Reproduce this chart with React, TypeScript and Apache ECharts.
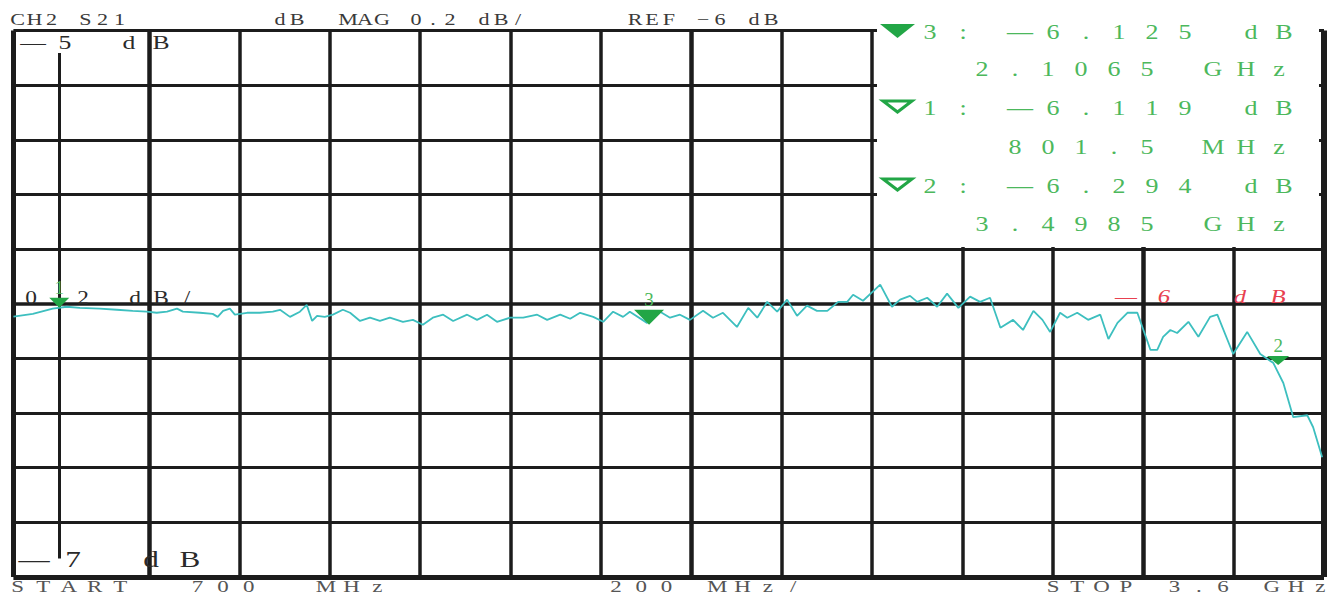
import React, { useEffect, useRef } from "react";
import * as echarts from "echarts";

// ---- data ----
const freqMHz = [
  700, 743, 787, 818, 847, 891, 929, 964, 995, 1017, 1040, 1062, 1075, 1113, 1141, 1152, 1164, 1179, 1190, 1217,
  1245, 1274, 1290, 1312, 1334, 1349, 1361, 1372, 1389, 1407, 1429, 1445, 1467, 1489, 1511, 1533, 1562, 1584, 1606, 1628,
  1651, 1673, 1704, 1726, 1748, 1770, 1799, 1828, 1859, 1881, 1910, 1932, 1954, 1983, 2005, 2027, 2049, 2064, 2102, 2131,
  2153, 2175, 2197, 2226, 2248, 2270, 2301, 2326, 2346, 2368, 2390, 2412, 2434, 2456, 2478, 2501, 2525, 2545, 2558, 2580,
  2618, 2644, 2662, 2684, 2700, 2722, 2744, 2766, 2791, 2817, 2839, 2861, 2884, 2912, 2934, 2957, 2977, 2994, 3016, 3032,
  3054, 3078, 3105, 3123, 3143, 3165, 3187, 3216, 3231, 3244, 3260, 3275, 3300, 3322, 3348, 3364, 3399, 3430, 3459, 3488,
  3510, 3532, 3563, 3576, 3596,
];
const s21dB = [
  -6.047, -6.037, -6.018, -6.011, -6.015, -6.018, -6.022, -6.026, -6.029, -6.033, -6.029, -6.018, -6.029, -6.033, -6.037, -6.048, -6.026, -6.018, -6.040, -6.033,
  -6.033, -6.029, -6.022, -6.048, -6.029, -6.004, -6.063, -6.044, -6.048, -6.040, -6.022, -6.033, -6.063, -6.051, -6.063, -6.051, -6.066, -6.059, -6.077, -6.051,
  -6.040, -6.063, -6.040, -6.059, -6.040, -6.066, -6.051, -6.051, -6.040, -6.059, -6.040, -6.055, -6.033, -6.048, -6.066, -6.029, -6.048, -6.029, -6.070, -6.029,
  -6.051, -6.040, -6.059, -6.026, -6.051, -6.033, -6.085, -6.015, -6.051, -5.993, -6.029, -5.985, -6.044, -6.007, -6.026, -6.026, -5.993, -5.993, -5.967, -5.989,
  -5.930, -6.011, -5.985, -5.971, -5.993, -5.978, -6.011, -5.963, -6.015, -5.974, -5.993, -5.978, -6.088, -6.059, -6.096, -6.026, -6.059, -6.103, -6.033, -6.051,
  -6.033, -6.059, -6.040, -6.129, -6.070, -6.033, -6.033, -6.169, -6.169, -6.121, -6.096, -6.107, -6.066, -6.121, -6.048, -6.040, -6.184, -6.103, -6.184, -6.217,
  -6.290, -6.415, -6.408, -6.452, -6.562,
];
const xStartMHz = 700;
const xStopMHz = 3600;
const xGridMHz = [1000, 1200, 1400, 1600, 1800, 2000, 2200, 2400, 2600, 2800, 3000, 3200, 3400];
const yTopDb = -5;
const yBottomDb = -7;
const yGridDb = [-5.2, -5.4, -5.6, -5.8, -6.0, -6.2, -6.4, -6.6, -6.8];
const markerNames = ["1", "3", "2"];
const markerFreqMHz = [801.5, 2106.5, 3498.5];
const markerDb = [-6.015, -6.077, -6.224];
const marker1LineDb = [-5.082, -6.932];

// ---- texts ----
const headerLeft = "CH2 S21";
const headerMid = "dB  MAG 0.2 dB/";
const headerRef = "REF −6 dB";
const topScale = "—5 dB";
const perDiv = "0.2 dB/";
const bottomScale = "—7 dB";
const startText = "START  700  MHz";
const spanText = "200 MHz/";
const stopText = "STOP 3.6 GHz";
const refText = "—6 dB";
const readoutIds = ["3", "1", "2"];
const readoutValues = ["—6.125 dB", "—6.119 dB", "—6.294 dB"];
const readoutFreqs = [" 2.1065 GHz", "  801.5 MHz", " 3.4985 GHz"];

const SERIF = '"Liberation Serif", "DejaVu Serif", serif';

function spaced(
  str: string,
  x0: number,
  pitch: number,
  y: number,
  font: string,
  fill: string,
  scaleX = 1,
  z = 11
) {
  const out: any[] = [];
  Array.from(str).forEach((ch, i) => {
    if (ch === " ") return;
    out.push({
      type: "text",
      x: x0 + i * pitch,
      y,
      z,
      scaleX,
      silent: true,
      style: {
        text: ch,
        font,
        fill,
        align: "center",
        verticalAlign: "middle",
        textAlign: "center",
        textVerticalAlign: "middle",
      },
    });
  });
  return out;
}

export default function App() {
  const ref = useRef<HTMLDivElement>(null);
  useEffect(() => {
    if (!ref.current) return;
    const chart = echarts.init(ref.current, undefined, { renderer: "svg" });
    const gridColor = "#1c1c1c";
    const green = "#4cb85c";
    const greenFill = "#22a646";
    const hdr = `17px ${SERIF}`;
    const bottomFont = `17px ${SERIF}`;
    const roFont = `20px ${SERIF}`;

    const gridLines: any[] = [
      ...xGridMHz.map((v) => ({
        xAxis: v,
        lineStyle: { color: gridColor, width: v === 1000 || v === 2200 || v === 3200 ? 4.5 : 3.5, type: "solid" },
      })),
      ...yGridDb.map((v) => ({ yAxis: v, lineStyle: { color: gridColor, width: v === -6 ? 3.5 : 3, type: "solid" } })),
      { xAxis: xStartMHz, lineStyle: { color: gridColor, width: 5, type: "solid" } },
      { xAxis: xStopMHz, lineStyle: { color: gridColor, width: 6, type: "solid" } },
      { yAxis: yTopDb, lineStyle: { color: gridColor, width: 3, type: "solid" } },
      { yAxis: yBottomDb, lineStyle: { color: gridColor, width: 5, type: "solid" } },
      [
        { coord: [markerFreqMHz[0], marker1LineDb[0]], lineStyle: { color: gridColor, width: 3, type: "solid" } },
        { coord: [markerFreqMHz[0], marker1LineDb[1]] },
      ],
    ];

    const markerSizes = [
      [20, 10],
      [30, 15],
      [22, 9],
    ];

    const graphics: any[] = [
      // readout box
      { type: "rect", z: 10, silent: true, shape: { x: 877, y: 26, width: 442, height: 221 }, style: { fill: "#ffffff" } },
      ...spaced(headerLeft, 17.5, 17, 19, hdr, "#3a3a3a", 1.3),
      ...spaced(headerMid, 280, 17, 19, hdr, "#3a3a3a", 1.3),
      ...spaced(headerRef, 635, 17, 19, hdr, "#3a3a3a", 1.3),
      ...spaced(topScale, 33, 32, 43, `19px ${SERIF}`, "#2a2a2a", 1.35),
      ...spaced(perDiv, 31, 26, 298, `18px ${SERIF}`, "#2a2a2a", 1.3),
      ...spaced(bottomScale, 34, 39, 559, `24px ${SERIF}`, "#2a2a2a", 1.3),
      ...spaced(startText, 17.5, 25.7, 586, bottomFont, "#555555", 1.35),
      ...spaced(spanText, 616, 25.3, 586, bottomFont, "#555555", 1.35),
      ...spaced(stopText, 1053, 24.3, 586, bottomFont, "#555555", 1.35),
      ...spaced(refText, 1126, 38, 297, `italic 19px ${SERIF}`, "#e8404f", 1.3),
      // readout triangles
      { type: "polygon", z: 11, silent: true, shape: { points: [[880, 24], [915, 24], [897.5, 38]] }, style: { fill: greenFill } },
      { type: "polygon", z: 11, silent: true, shape: { points: [[883, 101], [912, 101], [897.5, 112]] }, style: { fill: "none", stroke: greenFill, lineWidth: 3 } },
      { type: "polygon", z: 11, silent: true, shape: { points: [[883, 179], [912, 179], [897.5, 190]] }, style: { fill: "none", stroke: greenFill, lineWidth: 3 } },
    ];
    const rowY = [32, 69.5, 108, 147, 186, 224];
    readoutIds.forEach((id, i) => {
      graphics.push(...spaced(id, 930, 33, rowY[i * 2], roFont, green, 1.3));
      graphics.push(...spaced(":", 963, 33, rowY[i * 2], roFont, green, 1.3));
      graphics.push(...spaced(readoutValues[i], 1020, 33, rowY[i * 2], roFont, green, 1.3));
      graphics.push(...spaced(readoutFreqs[i], 949, 33, rowY[i * 2 + 1], roFont, green, 1.3));
    });

    chart.setOption({
      animation: false,
      backgroundColor: "#ffffff",
      grid: { left: 13.4, right: 3, top: 30.5, bottom: 19, containLabel: false },
      xAxis: { type: "value", min: xStartMHz, max: xStopMHz, show: false },
      yAxis: { type: "value", min: yBottomDb, max: yTopDb, show: false },
      series: [
        {
          type: "line",
          z: 3,
          silent: true,
          data: [[xStartMHz, -6]],
          showSymbol: false,
          lineStyle: { width: 0 },
          markLine: { silent: true, symbol: ["none", "none"], label: { show: false }, animation: false, data: gridLines },
        },
        {
          type: "line",
          z: 5,
          silent: true,
          data: freqMHz.map((f, i) => [f, s21dB[i]]),
          showSymbol: false,
          smooth: false,
          lineStyle: { color: "#3dbfbf", width: 1.8 },
        },
        {
          type: "scatter",
          z: 20,
          silent: true,
          symbol: "path://M0,0L10,0L5,5Z",
          itemStyle: { color: greenFill, opacity: 1 },
          data: markerNames.map((n, i) => ({
            name: n,
            value: [markerFreqMHz[i], markerDb[i]],
            symbolSize: markerSizes[i],
            symbolOffset: [0, -markerSizes[i][1] / 2],
          })),
          label: {
            show: true,
            position: "top",
            distance: 1,
            formatter: "{b}",
            color: green,
            fontSize: 19,
            fontFamily: SERIF,
          },
        },
      ],
      graphic: { elements: graphics },
    });
    return () => chart.dispose();
  }, []);
  return (
    <div
      ref={ref}
      style={{ position: "fixed", left: 0, top: 0, width: 1327, height: 596, background: "#ffffff" }}
    />
  );
}
